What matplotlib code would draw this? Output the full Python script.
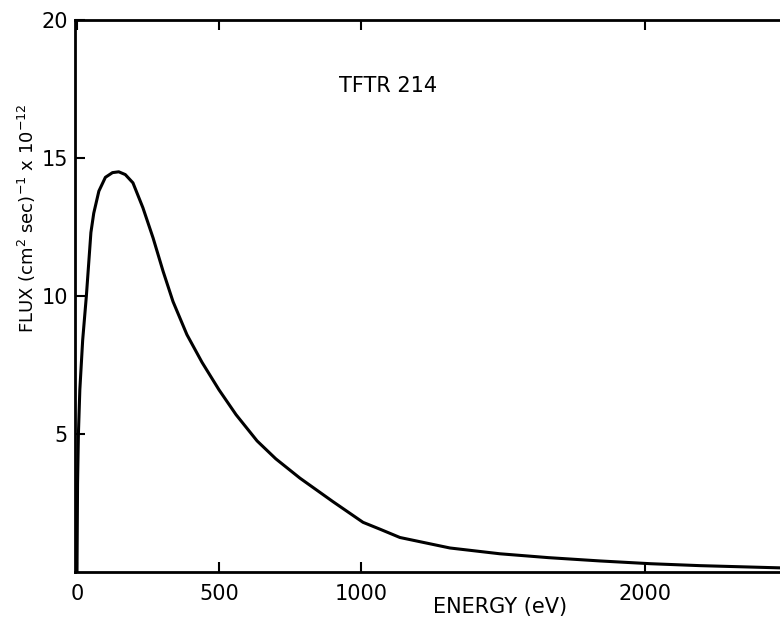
import matplotlib
matplotlib.use("Agg")
from matplotlib import pyplot as plt

# spectrum
energy = [0, 2, 5, 10, 20, 33, 49, 59, 77, 100, 125, 147, 170, 197, 232, 268,
          303, 338, 387, 440, 500, 560, 634, 700, 785, 901, 1007, 1067, 1137,
          1313, 1489, 1660, 1842, 2020, 2194, 2475]
flux = [0, 3.2, 5.0, 6.6, 8.4, 10.0, 12.3, 13.0, 13.8, 14.3, 14.47, 14.5, 14.4,
        14.1, 13.2, 12.1, 10.9, 9.8, 8.6, 7.6, 6.6, 5.7, 4.75, 4.1, 3.4, 2.55,
        1.8, 1.55, 1.25, 0.87, 0.66, 0.52, 0.4, 0.3, 0.23, 0.15]

xticks = [0, 500, 1000, 2000]
yticks = [5, 10, 15, 20]

plt.rcParams['font.family'] = ['DejaVu Sans']

fig = plt.figure(figsize=(7.8, 6.23), dpi=100)
ax = fig.add_axes([75 / 780, (623 - 572) / 623, 705 / 780, (572 - 20) / 623])

ax.plot(energy, flux, color='black', lw=2.2)

ax.set_xlim(-7, 2475)
ax.set_ylim(0, 20)
ax.set_xticks(xticks)
ax.set_yticks(yticks)
ax.tick_params(direction='in', length=7, width=1.5, labelsize=15, top=True)
ax.tick_params(axis='y', pad=5)
ax.tick_params(axis='x', pad=9)
ax.spines['right'].set_visible(False)
for s in ['left', 'top', 'bottom']:
    ax.spines[s].set_linewidth(2)

ax.text(1095, 17.6, 'TFTR 214', fontsize=15, ha='center', va='center')

fig.text(500 / 780, 1 - 607 / 623, 'ENERGY (eV)', fontsize=15,
         ha='center', va='center')
fig.text(27 / 780, 1 - 218 / 623,
         r'FLUX (cm$^{2}$ sec)$^{-1}$ x 10$^{-12}$', fontsize=13,
         rotation=90, ha='center', va='center')

fig.savefig('out.png', dpi=100)
